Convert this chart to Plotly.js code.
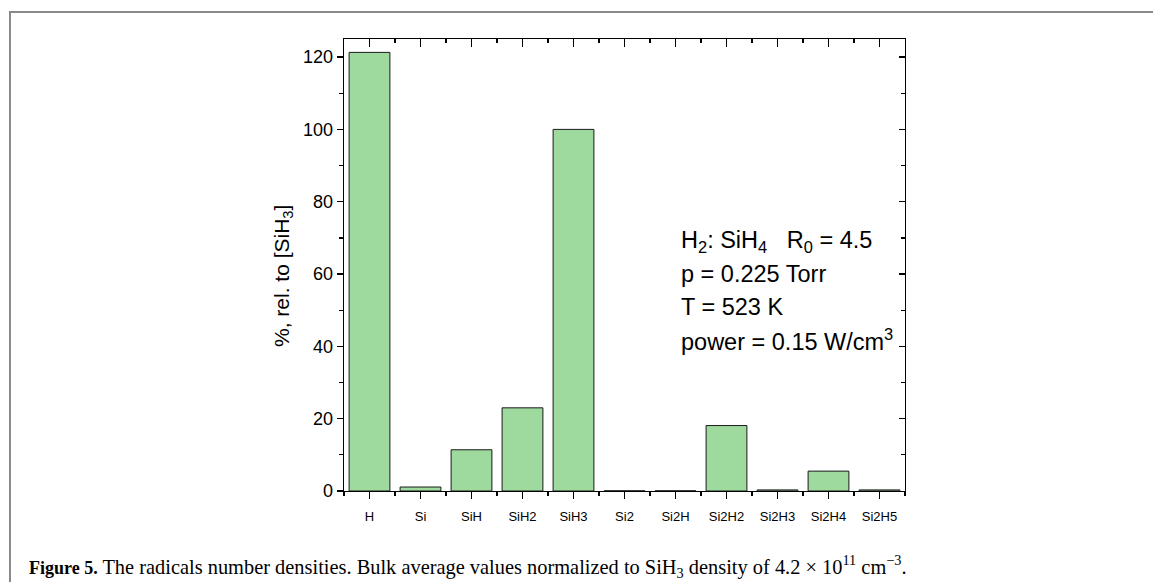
<!DOCTYPE html>
<html>
<head>
<meta charset="utf-8">
<script src="https://cdn.plot.ly/plotly-3.0.1.min.js"></script>
<style>
  html, body { margin: 0; padding: 0; background: #fff; overflow: hidden; }
  #chart { width: 1153px; height: 582px; }
</style>
</head>
<body>
<div id="chart"></div>
<script>
// Data
const categories = ["H", "Si", "SiH", "SiH2", "SiH3", "Si2", "Si2H", "Si2H2", "Si2H3", "Si2H4", "Si2H5"];
const values = [121.3, 1.1, 11.4, 23.0, 100.0, 0.05, 0.05, 18.1, 0.3, 5.5, 0.3];
const yTickVals = [0, 20, 40, 60, 80, 100, 120];
const infoLines = [
  "H<sub>2</sub>: SiH<sub>4</sub>   R<sub>0</sub> = 4.5",
  "p = 0.225 Torr",
  "T = 523 K",
  "power = 0.15 W/cm<sup>3</sup>"
];

const idx = categories.map((c, i) => i);
const axisFont = { family: "Liberation Sans, Arial, sans-serif", color: "#000" };

const traces = [
  {
    type: "bar",
    x: idx,
    y: values,
    width: 0.8,
    marker: { color: "#9ed99d", line: { color: "#1a1a1a", width: 1 } },
    hoverinfo: "x+y",
    showlegend: false
  },
  {
    type: "scatter",
    mode: "none",
    x: idx,
    y: values,
    xaxis: "x2",
    yaxis: "y2",
    hoverinfo: "skip",
    showlegend: false
  }
];

const xr = [-0.5, categories.length - 0.5];
const yr = [0, 125];

// plot area in pixels: x 344..905, y 39..491
const PL = 344, PW = 561, PT = 39, PH = 452;
const px = (x) => (x - PL) / PW;
const py = (y) => (PT + PH - y) / PH;

const annotations = [
  {
    xref: "paper", yref: "paper",
    x: px(283), y: py(276),
    xanchor: "center", yanchor: "middle",
    textangle: -90,
    showarrow: false,
    text: "%, rel. to [SiH<sub>3</sub>]",
    font: Object.assign({ size: 21 }, axisFont)
  },
  {
    xref: "paper", yref: "paper",
    x: px(27), y: py(566),
    xanchor: "left", yanchor: "middle",
    align: "left",
    showarrow: false,
    text: "<b><span style=\"font-size:18px\">Figure 5.</span></b> The radicals number densities. Bulk average values normalized to SiH<sub>3</sub> density of 4.2 × 10<sup>11</sup> cm<sup>−3</sup>.",
    font: { family: "Liberation Serif, Times New Roman, serif", size: 20.4, color: "#000" }
  }
];
infoLines.forEach((t, i) => {
  annotations.push({
    xref: "paper", yref: "paper",
    x: px(679), y: py(241 + i * 33),
    xanchor: "left", yanchor: "middle",
    align: "left",
    showarrow: false,
    text: t,
    font: Object.assign({ size: 23.5 }, axisFont)
  });
});

const frameLine = { color: "#8a8a8a", width: 2 };
const shapes = [
  { type: "line", xref: "paper", yref: "paper", layer: "above",
    x0: px(9), x1: px(1160), y0: py(12), y1: py(12), line: frameLine },
  { type: "line", xref: "paper", yref: "paper", layer: "above",
    x0: px(10), x1: px(10), y0: py(11), y1: py(590), line: frameLine }
];

const tickStyle = { tickwidth: 1.3, tickcolor: "#000", showline: true, linecolor: "#000", linewidth: 1.3,
                    showgrid: false, zeroline: false, fixedrange: true };

const layout = {
  width: 1153,
  height: 582,
  margin: { l: PL, r: 1153 - PL - PW, t: PT, b: 582 - PT - PH },
  paper_bgcolor: "#fff",
  plot_bgcolor: "#fff",
  showlegend: false,
  xaxis: Object.assign({
    range: xr,
    tickmode: "array",
    tickvals: idx,
    ticktext: categories,
    ticks: "outside",
    ticklen: 7,
    ticklabelstandoff: 6,
    tickfont: Object.assign({ size: 13 }, axisFont),
    minor: { ticks: "outside", ticklen: 4, tickwidth: 1.3, tickcolor: "#000", tick0: 0.5, dtick: 1, showgrid: false }
  }, tickStyle),
  yaxis: Object.assign({
    range: yr,
    tickmode: "array",
    tickvals: yTickVals,
    ticks: "outside",
    ticklen: 6,
    tickfont: Object.assign({ size: 18 }, axisFont),
    minor: { ticks: "outside", ticklen: 4, tickwidth: 1.3, tickcolor: "#000", tick0: 10, dtick: 20, showgrid: false }
  }, tickStyle),
  xaxis2: Object.assign({
    overlaying: "x",
    side: "top",
    anchor: "y",
    range: xr,
    tickmode: "array",
    tickvals: idx,
    ticks: "inside",
    ticklen: 8,
    showticklabels: false,
    minor: { ticks: "inside", ticklen: 4, tickwidth: 1.3, tickcolor: "#000", tick0: 0.5, dtick: 1, showgrid: false }
  }, tickStyle),
  yaxis2: Object.assign({
    overlaying: "y",
    side: "right",
    anchor: "x",
    range: yr,
    tickmode: "array",
    tickvals: yTickVals,
    ticks: "inside",
    ticklen: 6,
    showticklabels: false,
    minor: { ticks: "inside", ticklen: 4, tickwidth: 1.3, tickcolor: "#000", tick0: 10, dtick: 20, showgrid: false }
  }, tickStyle),
  shapes: shapes,
  annotations: annotations
};

Plotly.newPlot("chart", traces, layout, { displayModeBar: false, staticPlot: true });
</script>
</body>
</html>
